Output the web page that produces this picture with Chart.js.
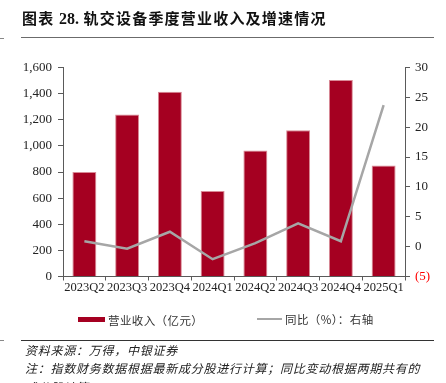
<!DOCTYPE html>
<html>
<head>
<meta charset="utf-8">
<script src="https://cdn.jsdelivr.net/npm/chart.js@4.4.1/dist/chart.umd.min.js"></script>
<style>
  html, body { margin: 0; padding: 0; background: #fff; }
  body { width: 446px; height: 383px; position: relative; overflow: hidden; }
  #wrap { position: absolute; left: 0; top: 0; width: 446px; height: 383px; }
  .abs { position: absolute; white-space: nowrap; }
  #title { left: 22px; top: 7px; font: bold 15px "Noto Sans CJK SC", sans-serif; letter-spacing: 1.2px; color: #111; line-height: 22px; }
  #title .num { font-family: "Liberation Serif", serif; font-weight: bold; font-size: 16px; letter-spacing: 0; }
  .rule { position: absolute; height: 0; }
  .leg { font: 11.5px "Noto Sans CJK SC", sans-serif; color: #333; line-height: 16px; letter-spacing: 0.4px; }
  .note { font: italic 12px "Noto Sans CJK SC", sans-serif; color: #222; line-height: 16px; letter-spacing: 0.75px; left: 25px; }
</style>
</head>
<body>
<div id="wrap"><canvas id="c" width="446" height="383"></canvas></div>
<div id="title" class="abs">图表 <span class="num">28.</span> 轨交设备季度营业收入及增速情况</div>
<div class="rule" style="left:21px; top:37px; width:413px; border-top:1.5px solid #6b6b6b;"></div>
<div class="rule" style="left:0px; top:38px; width:4px; border-top:1px solid #888;"></div>

<div class="abs" style="left:78px; top:317px; width:27px; height:5px; background:#a50021;"></div>
<div id="leg1" class="abs leg" style="left:108px; top:312px;"></div>
<div class="abs" style="left:257px; top:318px; width:25px; height:2px; background:#a6a6a6;"></div>
<div id="leg2" class="abs leg" style="left:285px; top:311px;"></div>

<div class="rule" style="left:21px; top:340px; width:413px; border-top:1px solid #333;"></div>
<div class="rule" style="left:0px; top:340px; width:4px; border-top:1px solid #888;"></div>
<div class="abs note" style="top:342px;">资料来源：万得，中银证券</div>
<div class="abs note" style="top:360px;">注：指数财务数据根据最新成分股进行计算；同比变动根据两期共有的</div>
<div class="abs note" style="top:379px;">成分股计算</div>

<script>
const categories = ['2023Q2','2023Q3','2023Q4','2024Q1','2024Q2','2024Q3','2024Q4','2025Q1'];
const revenue = [800, 1240, 1415, 655, 965, 1120, 1505, 850];
const yoy = [0.9, -0.35, 2.5, -2.1, 0.6, 3.9, 0.9, 23.7];
const revenueLabel = '营业收入（亿元）';
const yoyLabel = '同比（%）：右轴';
const leftTicks = [0, 200, 400, 600, 800, 1000, 1200, 1400, 1600];
const rightTicks = [-5, 0, 5, 10, 15, 20, 25, 30];

document.getElementById('leg1').textContent = revenueLabel;
document.getElementById('leg2').textContent = yoyLabel;

const tickFont = { family: '"Liberation Serif", "Times New Roman", serif', size: 13 };
const axisColor = '#5a5a5a';

new Chart(document.getElementById('c'), {
  type: 'bar',
  data: {
    labels: categories,
    datasets: [
      {
        type: 'line',
        label: yoyLabel,
        data: yoy,
        yAxisID: 'y1',
        borderColor: '#a6a6a6',
        borderWidth: 2.5,
        pointRadius: 0,
        tension: 0,
        order: 0
      },
      {
        type: 'bar',
        label: revenueLabel,
        data: revenue,
        yAxisID: 'y',
        backgroundColor: '#a50021',
        borderColor: '#d98a96',
        borderWidth: 1,
        borderSkipped: 'bottom',
        barPercentage: 0.56,
        categoryPercentage: 1,
        order: 1
      }
    ]
  },
  options: {
    responsive: false,
    animation: false,
    layout: { padding: { top: 67.5, bottom: 84.5, left: 0, right: 0 } },
    plugins: { legend: { display: false }, tooltip: { enabled: false } },
    scales: {
      x: {
        offset: true,
        grid: { offset: true, drawOnChartArea: false, drawTicks: true, tickLength: 4, color: axisColor },
        border: { display: true, color: axisColor, width: 1 },
        ticks: { font: { family: tickFont.family, size: 12.5 }, color: '#222', padding: 0, maxRotation: 0, autoSkip: false },
        afterFit: s => { s.height = 22; }
      },
      y: {
        position: 'left',
        min: 0, max: 1600,
        afterBuildTicks: s => { s.ticks = leftTicks.map(v => ({ value: v })); },
        grid: { drawOnChartArea: false, drawTicks: true, tickLength: 5, color: axisColor },
        border: { display: true, color: axisColor, width: 1 },
        ticks: { font: tickFont, color: '#222', padding: 6, callback: v => v.toLocaleString('en-US') },
        afterFit: s => { s.width = 63; }
      },
      y1: {
        position: 'right',
        min: -5, max: 30,
        afterBuildTicks: s => { s.ticks = rightTicks.map(v => ({ value: v })); },
        grid: { drawOnChartArea: false, drawTicks: true, tickLength: 5, color: axisColor },
        border: { display: true, color: axisColor, width: 1 },
        ticks: {
          font: tickFont,
          padding: 5,
          color: ctx => (ctx.tick && ctx.tick.value < 0) ? '#ff0000' : '#222',
          callback: v => v < 0 ? '(' + Math.abs(v) + ')' : String(v)
        },
        afterFit: s => { s.width = 41; }
      }
    }
  }
});
</script>
</body>
</html>
